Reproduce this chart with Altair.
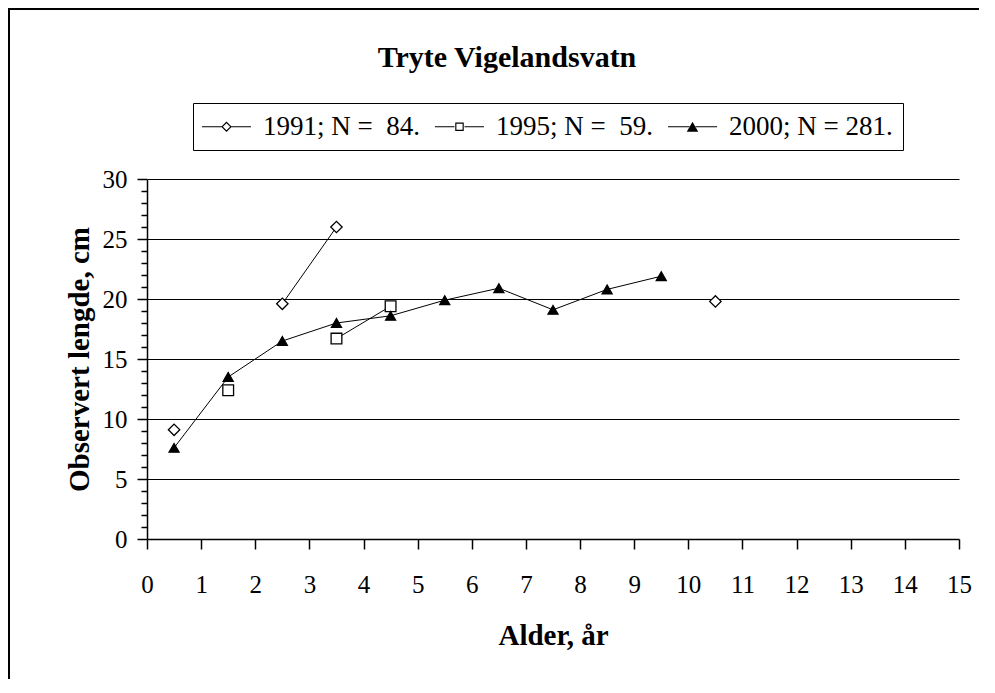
import altair as alt
import pandas as pd

# ---- data ----
ages = [0.5, 1.5, 2.5, 3.5, 4.5, 5.5, 6.5, 7.5, 8.5, 9.5, 10.5]
series = ["1991; N = \u00a084.", "1995; N = \u00a059.", "2000; N = 281."]
len_1991 = [9.1, None, 19.6, 26.0, None, None, None, None, None, None, 19.8]
len_1995 = [None, 12.4, None, 16.7, 19.4, None, None, None, None, None, None]
len_2000 = [7.6, 13.5, 16.5, 18.0, 18.6, 19.9, 20.9, 19.1, 20.8, 21.9, None]
x_ticks = list(range(0, 16))
y_ticks = list(range(0, 31))

rows = []
for name, vals in zip(series, [len_1991, len_1995, len_2000]):
    seg = 0
    for a, v in zip(ages, vals):
        if v is None:
            seg += 1
            continue
        rows.append({"series": name, "age": a, "length": v, "segment": f"{name}-{seg}"})
df = pd.DataFrame(rows)

FONT = "Liberation Serif"

# legend symbols drawn as filled outlines (unit = sqrt(size)/2 = 5 px):
# marker outline (outer ring minus inner hole) plus thin line tails
tails = "M-4.9,-0.1H-1V0.1H-4.9Z M1,-0.1H4.9V0.1H1Z"
p_diamond = tails + " M-1.05,0L0,-1.05L1.05,0L0,1.05Z M-0.72,0L0,0.72L0.72,0L0,-0.72Z"
p_square = tails + " M-0.85,-0.85H0.85V0.85H-0.85Z M-0.62,-0.62V0.62H0.62V-0.62Z"
p_tri = "M-4.9,-0.1H-0.5V0.1H-4.9Z M0.5,-0.1H4.9V0.1H0.5Z M-1.15,1L1.15,1L0,-1Z"

legend = alt.Legend(
    title=None,
    orient="none",
    direction="horizontal",
    legendX=46,
    legendY=-76,
    padding=10,
    strokeColor="black",
    fillColor="white",
    labelFont=FONT,
    labelFontSize=27,
    labelColor="black",
    labelLimit=400,
    symbolSize=100,
    symbolOffset=10,
    labelOffset=23,
    columnPadding=15,
    symbolStrokeWidth=0,
    symbolOpacity=1,
)

x_enc = alt.X(
    "age:Q",
    scale=alt.Scale(domain=[0, 15], nice=False),
    axis=alt.Axis(
        values=x_ticks,
        format="d",
        title="Alder, år",
        tickSize=10,
        tickWidth=1.5,
        domainWidth=1.5,
        labelPadding=23,
        titlePadding=24,
        grid=False,
        labelFlush=False,
        labelOverlap=False,
    ),
)
y_enc = alt.Y(
    "length:Q",
    scale=alt.Scale(domain=[0, 30], nice=False),
    axis=alt.Axis(
        values=y_ticks,
        tickCount=40,
        format="d",
        title="Observert lengde, cm",
        tickSize={"condition": {"test": "datum.value % 5 === 0", "value": 10}, "value": 6},
        tickWidth=1.5,
        domainWidth=1.5,
        labelExpr="datum.value % 5 === 0 ? datum.label : ''",
        labelPadding=10,
        titlePadding=8,
        grid=True,
        gridColor="black",
        gridWidth=1,
        gridOpacity={
            "condition": {"test": "datum.value % 5 === 0 && datum.value > 0", "value": 1},
            "value": 0,
        },
        labelFlush=False,
        labelOverlap=False,
    ),
)

base = alt.Chart(df)

lines = base.mark_line(color="black", strokeWidth=1).encode(
    x=x_enc, y=y_enc, detail="segment:N", order="age:Q"
)

points = base.mark_point(stroke="black", strokeWidth=1.3, opacity=1, fillOpacity=1).encode(
    x=x_enc,
    y=y_enc,
    shape=alt.Shape(
        "series:N",
        scale=alt.Scale(domain=series, range=["diamond", "square", "triangle-up"]),
        legend=None,
    ),
    fill=alt.Fill(
        "series:N",
        scale=alt.Scale(domain=series, range=["white", "white", "black"]),
        legend=None,
    ),
    size=alt.Size(
        "series:N", scale=alt.Scale(domain=series, range=[130, 100, 170]), legend=None
    ),
)

# legend-only layer (no marks drawn)
legend_layer = (
    base.transform_filter("false")
    .mark_point(filled=True, opacity=1)
    .encode(
        shape=alt.Shape(
            "series:N",
            scale=alt.Scale(domain=series, range=[p_diamond, p_square, p_tri]),
            legend=legend,
        ),
        fill=alt.Fill(
            "series:N",
            scale=alt.Scale(domain=series, range=["black", "black", "black"]),
            legend=legend,
        ),
    )
)

frame_df = pd.DataFrame({"k": [0]})
frame_top = alt.Chart(frame_df).mark_rule(color="black", strokeWidth=2).encode(
    x=alt.value(-139), x2=alt.value(832), y=alt.value(-170), y2=alt.value(-170)
)
frame_left = alt.Chart(frame_df).mark_rule(color="black", strokeWidth=2).encode(
    x=alt.value(-138), x2=alt.value(-138), y=alt.value(-171), y2=alt.value(500)
)

chart = (
    alt.layer(frame_top, frame_left, lines, points, legend_layer)
    .resolve_scale(shape="independent", fill="independent")
    .properties(
        width=812,
        height=360,
        autosize=alt.AutoSizeParams(type="none"),
        padding={"left": 139, "top": 171, "right": 20, "bottom": 140},
        title=alt.TitleParams(
            "Tryte Vigelandsvatn",
            font=FONT,
            fontSize=30,
            fontWeight="bold",
            color="black",
            anchor="middle",
            baseline="alphabetic",
            dx=-46,
            offset=-90,
        ),
        background="white",
    )
    .configure_view(stroke=None)
    .configure_axis(
        labelFont=FONT,
        labelFontSize=25,
        labelColor="black",
        titleFont=FONT,
        titleFontSize=29,
        titleFontWeight="bold",
        titleColor="black",
        domainColor="black",
        tickColor="black",
    )
)

chart.save("out.html", embed_options={"renderer": "svg", "actions": False})
